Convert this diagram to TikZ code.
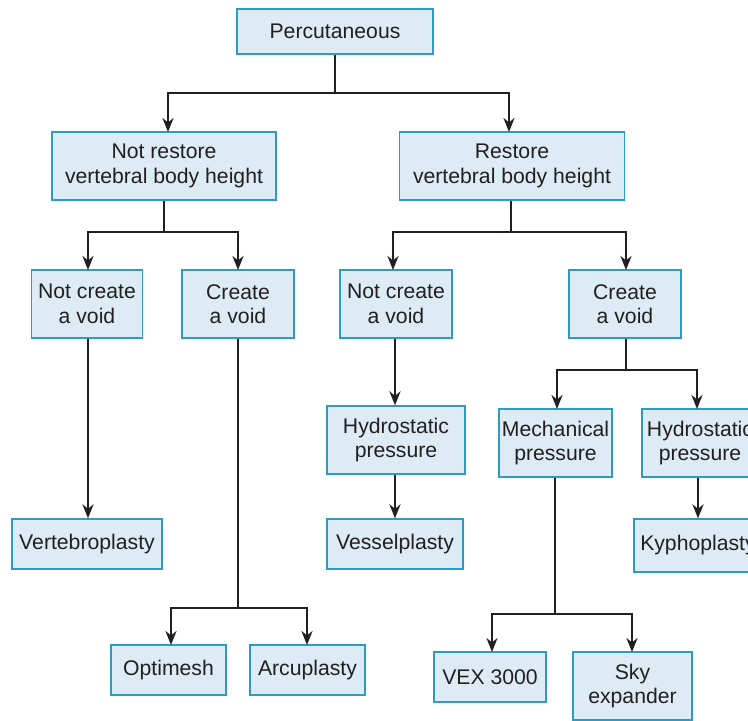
\documentclass[tikz,border=0pt]{standalone}
\usepackage{fontspec}
\setmainfont{Liberation Sans}
\usetikzlibrary{arrows.meta}
\definecolor{boxfill}{HTML}{DCEBF4}
\definecolor{boxline}{HTML}{2E9BC4}
\definecolor{txt}{HTML}{231F20}
\tikzset{
  box/.style={draw=boxline, fill=boxfill, line width=1.3pt, align=center, text=txt,
    font=\fontsize{21.2}{24.5}\selectfont, inner sep=0pt},
  conn/.style={line width=2.8pt, draw=txt},
  arr/.style={conn, -{Stealth[length=14pt,width=11pt]}}
}
\begin{document}
\begin{tikzpicture}[x=1pt,y=-1pt]
\useasboundingbox (0,0) rectangle (748,721);
\clip (0,0) rectangle (748,721);
% nodes
\node[box, minimum width=196pt, minimum height=45pt] (p) at (335,31.5) {Percutaneous};
\node[box, minimum width=224pt, minimum height=68pt] (nr) at (164,166) {Not restore\\vertebral body height};
\node[box, minimum width=225pt, minimum height=68pt] (r) at (512,166) {Restore\\vertebral body height};
\node[box, minimum width=111pt, minimum height=68pt] (nc1) at (87,304) {Not create\\a void};
\node[box, minimum width=112pt, minimum height=68pt] (c1) at (238,304) {Create\\a void};
\node[box, minimum width=112pt, minimum height=68pt] (nc2) at (396,304) {Not create\\a void};
\node[box, minimum width=112pt, minimum height=68pt] (c2) at (625,304) {Create\\a void};
\node[box, minimum width=138pt, minimum height=68pt] (h1) at (396,440) {Hydrostatic\\pressure};
\node[box, minimum width=113pt, minimum height=68pt] (m) at (555.5,443) {Mechanical\\pressure};
\node[box, minimum width=116pt, minimum height=68pt] (h2) at (700,443) {Hydrostatic\\pressure};
\node[box, minimum width=150pt, minimum height=50pt] (vb) at (87,544) {Vertebroplasty};
\node[box, minimum width=136pt, minimum height=50pt] (vs) at (395,544) {Vesselplasty};
\node[box, minimum width=128pt, minimum height=53pt] (ky) at (698,545.5) {Kyphoplasty};
\node[box, minimum width=115pt, minimum height=50pt] (op) at (168.5,670) {Optimesh};
\node[box, minimum width=115pt, minimum height=50pt] (ar) at (307.5,670) {Arcuplasty};
\node[box, minimum width=112pt, minimum height=50pt] (vx) at (490,677) {VEX 3000};
\node[box, minimum width=119pt, minimum height=68pt] (sk) at (632.5,686) {Sky\\expander};
% junctions
\coordinate (j1) at (335,93);
\coordinate (j2) at (164,232);
\coordinate (j3) at (511,232);
\coordinate (j4) at (238,608);
\coordinate (j5) at (626,370);
\coordinate (j6) at (555,614);
% connectors
\draw[conn] (p.south) -- (j1);
\draw[arr] (j1) -| (168,132);
\draw[arr] (j1) -| (509,132);
\draw[conn] (nr.south) -- (j2);
\draw[arr] (j2) -| (88,270);
\draw[arr] (j2) -| (238,270);
\draw[conn] (r.south -| j3) -- (j3);
\draw[arr] (j3) -| (393,270);
\draw[arr] (j3) -| (626,270);
\draw[arr] (nc1.south -| 88,0) -- (vb.north -| 88,0);
\draw[conn] (c1.south) -- (j4);
\draw[arr] (j4) -| (171,645);
\draw[arr] (j4) -| (307,645);
\draw[arr] (nc2.south -| 395,0) -- (h1.north -| 395,0);
\draw[arr] (h1.south -| 395,0) -- (vs.north -| 395,0);
\draw[conn] (c2.south -| j5) -- (j5);
\draw[arr] (j5) -| (557,409);
\draw[arr] (j5) -| (697,409);
\draw[conn] (m.south -| j6) -- (j6);
\draw[arr] (j6) -| (492,652);
\draw[arr] (j6) -| (632,652);
\draw[arr] (h2.south -| 698,0) -- (ky.north -| 698,0);
\end{tikzpicture}
\end{document}
